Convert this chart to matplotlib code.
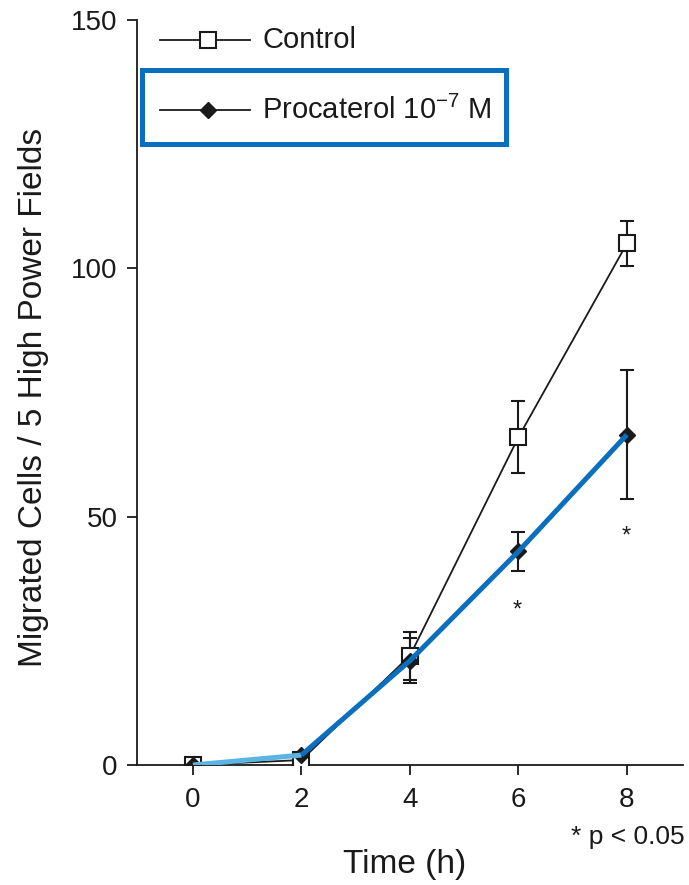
import matplotlib
matplotlib.use("Agg")
from matplotlib import pyplot as plt
from matplotlib.patches import Rectangle

plt.rcParams['font.family'] = ['Liberation Sans', 'DejaVu Sans']
plt.rcParams['mathtext.fontset'] = 'custom'
plt.rcParams['mathtext.rm'] = 'Liberation Sans'
plt.rcParams['mathtext.it'] = 'Liberation Sans:italic'

# data
time_h = [0, 2, 4, 6, 8]
control = [0, 1, 22, 66, 105]
control_err = [0, 0, 4.8, 7.3, 4.6]
procaterol = [0, 2, 21, 43, 66.5]
procaterol_err = [0, 0, 4.5, 3.9, 13]
star_x = [6, 8]
star_y = [31, 46]

highlight_dark = '#0b6fc0'
highlight_light = '#5ab5e2'
ink = '#1a1a1a'

fig = plt.figure(figsize=(6.89, 8.85), dpi=100)
ax = fig.add_axes([0.199, 0.1356, 0.792, 0.8418])

ax.errorbar(time_h, control, yerr=control_err, color=ink, lw=1.3,
            marker='s', ms=11, mfc='white', mec=ink, mew=1.5,
            capsize=5, elinewidth=1.5, capthick=1.5, zorder=3)
ax.errorbar(time_h, procaterol, yerr=procaterol_err, color=ink, lw=1.3,
            marker='D', ms=8, mfc=ink, mec=ink,
            capsize=5, elinewidth=1.5, capthick=1.5, zorder=3)

# blue highlight drawn over the procaterol line
ax.plot(time_h[:2], procaterol[:2], color=highlight_light, lw=3.6,
        solid_capstyle='butt', zorder=4)
ax.plot(time_h[1:], procaterol[1:], color=highlight_dark, lw=3.6,
        solid_capstyle='butt', zorder=4)

for sx, sy in zip(star_x, star_y):
    ax.text(sx - 0.02, sy, '*', ha='center', va='center', fontsize=17, color=ink)

ax.set_xlim(-1.03, 9.03)
ax.set_ylim(0, 150)
ax.set_xticks(time_h)
ax.set_yticks([0, 50, 100, 150])
ax.tick_params(labelsize=20, length=7, width=1.3, colors=ink)
ax.tick_params(axis='x', pad=9)
ax.tick_params(axis='y', pad=7)
for s in ('top', 'right'):
    ax.spines[s].set_visible(False)
for s in ('left', 'bottom'):
    ax.spines[s].set_linewidth(1.3)
    ax.spines[s].set_color(ink)

ax.set_xlabel('Time (h)', fontsize=24, color=ink)
ax.xaxis.set_label_coords(0.49, -0.113)
ax.set_ylabel('Migrated Cells / 5 High Power Fields', fontsize=24, color=ink)
ax.yaxis.set_label_coords(-0.161, 0.494)
fig.text(0.993, 0.054, '* p < 0.05', ha='right', va='center', fontsize=19,
         color=ink)

# legend drawn by hand
ax.plot([0.042, 0.207], [0.973, 0.973], transform=ax.transAxes, color=ink,
        lw=1.3, clip_on=False)
ax.plot([0.13], [0.973], transform=ax.transAxes, marker='s', ms=11, mfc='white',
        mec=ink, mew=1.5, clip_on=False)
ax.text(0.229, 0.973, 'Control', transform=ax.transAxes, va='center',
        fontsize=21, color=ink)
ax.plot([0.042, 0.207], [0.879, 0.879], transform=ax.transAxes, color=ink,
        lw=1.3, clip_on=False)
ax.plot([0.13], [0.879], transform=ax.transAxes, marker='D', ms=8,
        mfc=ink, mec=ink, clip_on=False)
ax.text(0.229, 0.879, 'Procaterol 10$^{-7}$ M', transform=ax.transAxes,
        va='center', fontsize=21, color=ink)
ax.add_patch(Rectangle((0.009, 0.833), 0.667, 0.1, transform=ax.transAxes,
                       fill=False, ec=highlight_dark, lw=3.6, clip_on=False))

fig.savefig('out.png', dpi=100)
